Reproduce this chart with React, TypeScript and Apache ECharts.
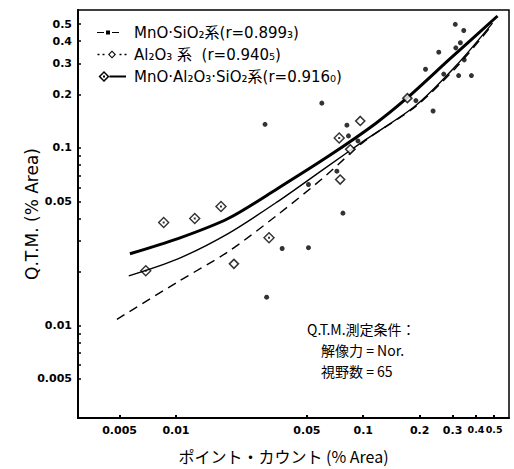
import React, { useEffect, useRef } from "react";
import * as echarts from "echarts";

// ---- tick values ----
const xTickValues = [0.005, 0.01, 0.05, 0.1, 0.2, 0.3, 0.4, 0.5];
const yTickValues = [0.005, 0.01, 0.05, 0.1, 0.2, 0.3, 0.4, 0.5];
const yMinorTickValues = [
  0.005, 0.006, 0.007, 0.008, 0.009, 0.01, 0.02, 0.03, 0.04, 0.05, 0.06, 0.07,
  0.08, 0.09, 0.1, 0.2, 0.3, 0.4, 0.5,
];

// ---- series names ----
const nameMnoSio2 = "MnO·SiO₂系(r=0.899₃)";
const nameAl2o3 = "Al₂O₃ 系  (r=0.940₅)";
const nameMas = "MnO·Al₂O₃·SiO₂系(r=0.916₀)";

// ---- annotation ----
const noteLines = ["Q.T.M.測定条件：", "　解像力 = Nor.", "　視野数 = 65"];

// ---- measured points [point count %, Q.T.M. %] ----
const mnoSio2Points: [number, number][] = [
  [0.0305, 0.0144], [0.0369, 0.0271], [0.0299, 0.136], [0.0601, 0.179],
  [0.051, 0.0622], [0.051, 0.0274], [0.0779, 0.0429], [0.0723, 0.074],
  [0.0818, 0.1345], [0.0834, 0.117], [0.0937, 0.1096], [0.191, 0.185],
  [0.236, 0.1616], [0.31, 0.498], [0.344, 0.46], [0.33, 0.392],
  [0.312, 0.367], [0.253, 0.347], [0.346, 0.314], [0.215, 0.278],
  [0.269, 0.261], [0.323, 0.256], [0.378, 0.256],
];
const al2o3Points: [number, number][] = [
  [0.0204, 0.0222], [0.0753, 0.0664], [0.0852, 0.0983], [0.0964, 0.142],
  [0.172, 0.191],
];
const masPoints: [number, number][] = [
  [0.0069, 0.0203], [0.0086, 0.038], [0.0126, 0.04], [0.0174, 0.0468],
  [0.0314, 0.0312], [0.0744, 0.114],
];

// ---- fitted curves ----
const masCurve: [number, number][] = [
  [0.00568, 0.0253], [0.01025, 0.0308], [0.019, 0.04], [0.0351, 0.0593],
  [0.0666, 0.0912], [0.116, 0.137], [0.172, 0.192], [0.292, 0.32],
  [0.521, 0.555],
];
const mnoSio2Curve: [number, number][] = [
  [0.0056, 0.019], [0.01025, 0.0237], [0.019, 0.0329], [0.0351, 0.05],
  [0.0626, 0.077], [0.1025, 0.111], [0.19, 0.173], [0.31, 0.288],
  [0.49, 0.506],
];
const al2o3Curve: [number, number][] = [
  [0.00484, 0.0108], [0.01025, 0.0176], [0.019, 0.026], [0.0351, 0.0422],
  [0.0626, 0.0693], [0.1025, 0.11], [0.19, 0.171], [0.31, 0.281],
  [0.478, 0.481],
];

// ---- symbols ----
const BOUNDS = "M0 0 H0.05 V0.05 H0 Z M31.95 11.95 H32 V12 H31.95 Z";
const iconMnoSio2 =
  "path://M0 5.4 H7 V6.6 H0 Z M9 4 H13 V8 H9 Z M15 5.4 H22 V6.6 H15 Z " + BOUNDS;
const iconAl2o3 =
  "path://M0.5 5.3 H2.5 V6.7 H0.5 Z M5.5 5.3 H7.5 V6.7 H5.5 Z " +
  "M15 2 L19 6 L15 10 L11 6 Z M15 3.5 L12.5 6 L15 8.5 L17.5 6 Z " +
  "M22.5 5.3 H24.5 V6.7 H22.5 Z M27.5 5.3 H29.5 V6.7 H27.5 Z " + BOUNDS;
const iconMas =
  "path://M7 0.5 L12.5 6 L7 11.5 L1.5 6 Z M7 2.6 L3.6 6 L7 9.4 L10.4 6 Z " +
  "M6 5 H8 V7 H6 Z M12.5 5 H29 V7 H12.5 Z " + BOUNDS;
const masSymbol =
  "path://M6 0 L12 6 L6 12 L0 6 Z M6 2 L2 6 L6 10 L10 6 Z M5 5 H7 V7 H5 Z";

const fmt = (v: number) => String(+Number(v).toPrecision(3));

export default function App() {
  const ref = useRef<HTMLDivElement>(null);

  useEffect(() => {
    if (!ref.current) return;
    const chart = echarts.init(ref.current, undefined, { renderer: "svg" });
    const baseFont = "DejaVu Sans, Noto Sans CJK JP, sans-serif";
    const cjkFont = "Noto Sans CJK JP, DejaVu Sans, sans-serif";

    chart.setOption({
      animation: false,
      backgroundColor: "#ffffff",
      grid: {
        left: 78,
        right: 5,
        top: 10,
        bottom: 50,
        show: true,
        borderColor: "#000",
        borderWidth: 1.5,
        backgroundColor: "transparent",
      },
      legend: {
        orient: "vertical",
        left: 92,
        top: 20,
        itemWidth: 32,
        itemHeight: 12,
        itemGap: 7,
        itemStyle: { borderWidth: 0 },
        textStyle: { fontSize: 15, color: "#000", fontFamily: baseFont },
        data: [
          { name: nameMnoSio2, icon: iconMnoSio2 },
          { name: nameAl2o3, icon: iconAl2o3 },
          { name: nameMas, icon: iconMas },
        ],
      },
      xAxis: {
        type: "log",
        logBase: 10,
        min: 0.003,
        max: 0.6,
        name: "ポイント・カウント (% Area)",
        nameLocation: "middle",
        nameGap: 30,
        nameTextStyle: { fontSize: 16, color: "#000", fontFamily: cjkFont, padding: [0, 20, 0, 0] },
        axisLine: { show: true, lineStyle: { color: "#000", width: 2 } },
        axisTick: {
          show: true,
          inside: true,
          length: 3,
          customValues: xTickValues,
          lineStyle: { color: "#000", width: 2 },
        },
        axisLabel: {
          customValues: xTickValues,
          margin: 7,
          color: "#000",
          fontSize: 11,
          fontWeight: "bold",
          fontFamily: baseFont,
          formatter: (v: number) => {
            const s = fmt(v);
            return v > 0.35 ? "{s|" + s + "}" : s;
          },
          rich: {
            s: { fontSize: 9.5, fontWeight: "bold", fontFamily: baseFont, color: "#000" },
          },
        },
        splitLine: { show: false },
        minorTick: { show: false },
      },
      yAxis: {
        type: "log",
        logBase: 10,
        min: 0.003,
        max: 0.6,
        name: "Q.T.M. (% Area)",
        nameLocation: "middle",
        nameRotate: 90,
        nameGap: 38,
        nameMoveOverlap: false,
        nameTextStyle: { fontSize: 17, color: "#000", fontFamily: baseFont },
        axisLine: { show: true, lineStyle: { color: "#000", width: 2 } },
        axisTick: {
          show: true,
          inside: true,
          length: 3,
          customValues: yMinorTickValues,
          lineStyle: { color: "#000", width: 1.5 },
        },
        axisLabel: {
          customValues: yTickValues,
          margin: 6,
          color: "#000",
          fontSize: 11,
          fontWeight: "bold",
          fontFamily: baseFont,
          formatter: (v: number) => fmt(v),
        },
        splitLine: { show: false },
        minorTick: { show: false },
      },
      series: [
        {
          name: nameMas,
          type: "line",
          data: masCurve,
          smooth: 0.3,
          symbol: "none",
          showSymbol: false,
          color: "#000",
          lineStyle: { color: "#000", width: 3 },
          z: 3,
        },
        {
          name: nameMnoSio2,
          type: "line",
          data: mnoSio2Curve,
          smooth: 0.3,
          symbol: "none",
          showSymbol: false,
          color: "#000",
          lineStyle: { color: "#000", width: 1.4 },
          z: 3,
        },
        {
          name: nameAl2o3,
          type: "line",
          data: al2o3Curve,
          smooth: 0.3,
          symbol: "none",
          showSymbol: false,
          color: "#000",
          lineStyle: { color: "#000", width: 1.4, type: [9, 6] },
          z: 3,
        },
        {
          name: "MnO·SiO₂ points",
          type: "scatter",
          data: mnoSio2Points,
          symbol: "circle",
          symbolSize: 5,
          itemStyle: { color: "#000" },
          z: 4,
        },
        {
          name: "Al₂O₃ points",
          type: "scatter",
          data: al2o3Points,
          symbol: "diamond",
          symbolSize: 9,
          itemStyle: { color: "#fff", borderColor: "#000", borderWidth: 1.6 },
          z: 4,
        },
        {
          name: "MnO·Al₂O₃·SiO₂ points",
          type: "scatter",
          data: masPoints,
          symbol: masSymbol,
          symbolSize: 12,
          itemStyle: { color: "#000" },
          z: 4,
        },
      ],
      graphic: [
        {
          type: "text",
          left: 307,
          top: 318,
          style: {
            text: noteLines.join("\n"),
            fontSize: 14,
            lineHeight: 21,
            fill: "#000",
            fontFamily: cjkFont,
          },
        },
      ],
    });

    return () => chart.dispose();
  }, []);

  return (
    <div
      ref={ref}
      style={{ position: "fixed", left: 0, top: 0, width: 514, height: 469, background: "#fff" }}
    />
  );
}
